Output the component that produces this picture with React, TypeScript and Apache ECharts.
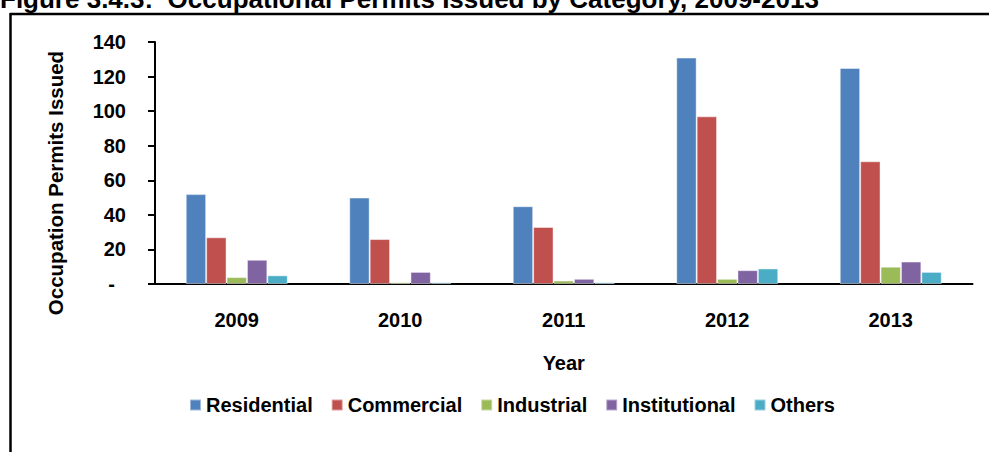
import React, { useEffect, useRef } from "react";
import * as echarts from "echarts";

const years = ["2009", "2010", "2011", "2012", "2013"];
const residential = [52, 50, 45, 131, 125];
const commercial = [27, 26, 33, 97, 71];
const industrial = [4, 1, 2, 3, 10];
const institutional = [14, 7, 3, 8, 13];
const others = [5, 1, 1, 9, 7];
const seriesNames = ["Residential", "Commercial", "Industrial", "Institutional", "Others"];
const seriesColors = ["#4F81BD", "#C0504D", "#9BBB59", "#8064A2", "#4BACC6"];
const titleText = "Figure 3.4.3:  Occupational Permits Issued by Category, 2009-2013";
const yTitle = "Occupation Permits Issued";
const xTitle = "Year";

const FONT = "'Liberation Sans', Arial, sans-serif";

export default function App() {
  const ref = useRef<HTMLDivElement>(null);
  useEffect(() => {
    document.body.style.margin = "0";
    if (!ref.current) return;
    const chart = echarts.init(ref.current, undefined, { renderer: "svg" });
    const data = [residential, commercial, industrial, institutional, others];
    chart.setOption({
      animation: false,
      backgroundColor: "#ffffff",
      textStyle: { fontFamily: FONT },
      grid: { left: 155, right: 16.5, top: 42, bottom: 168, containLabel: false },
      legend: {
        left: 189,
        top: 395,
        padding: 0,
        icon: "rect",
        itemWidth: 11,
        itemHeight: 11,
        itemGap: 18,
        textStyle: { fontFamily: FONT, fontSize: 20, fontWeight: "bold", color: "#000" },
        data: seriesNames,
      },
      xAxis: {
        type: "category",
        data: years,
        name: xTitle,
        nameLocation: "middle",
        nameGap: 69,
        nameTextStyle: { fontFamily: FONT, fontSize: 20, fontWeight: "bold", color: "#000" },
        axisLine: { lineStyle: { color: "#000", width: 2 } },
        axisTick: { show: false },
        axisLabel: { margin: 26, fontFamily: FONT, fontSize: 20, fontWeight: "bold", color: "#000" },
      },
      yAxis: {
        type: "value",
        min: 0,
        max: 140,
        interval: 20,
        splitLine: { show: false },
        axisLine: { show: true, lineStyle: { color: "#000", width: 2 } },
        axisTick: { show: true, length: 7, lineStyle: { color: "#000", width: 2 } },
        axisLabel: {
          margin: 29,
          fontFamily: FONT,
          fontSize: 20,
          fontWeight: "bold",
          color: "#000",
          formatter: (v: number) => (v === 0 ? "{z|-}" : String(v)),
          rich: {
            z: { fontFamily: FONT, fontSize: 20, fontWeight: "bold", color: "#000", padding: [0, 11, 0, 0] },
          },
        },
      },
      series: seriesNames.map((name, i) => ({
        name,
        type: "bar",
        data: data[i],
        barWidth: 20.4,
        barGap: "0%",
        itemStyle: { color: seriesColors[i], borderColor: "rgba(255,255,255,0.45)", borderWidth: 1 },
      })),
      graphic: [
        {
          type: "text",
          x: 0,
          y: 12,
          style: {
            text: titleText,
            font: `bold 26px ${FONT}`,
            fill: "#000",
            align: "left",
            verticalAlign: "bottom",
          },
        },
        {
          type: "line",
          shape: { x1: 10, y1: 14, x2: 989, y2: 14 },
          style: { stroke: "#000", lineWidth: 2.5 },
        },
        {
          type: "line",
          shape: { x1: 10.5, y1: 13, x2: 10.5, y2: 452 },
          style: { stroke: "#000", lineWidth: 2.5 },
        },
        {
          type: "text",
          x: 55,
          y: 183,
          rotation: Math.PI / 2,
          style: {
            text: yTitle,
            font: `bold 20.5px ${FONT}`,
            fill: "#000",
            align: "center",
            verticalAlign: "middle",
          },
        },
      ],
    });
    return () => chart.dispose();
  }, []);
  return <div ref={ref} style={{ width: 989, height: 452 }} />;
}
